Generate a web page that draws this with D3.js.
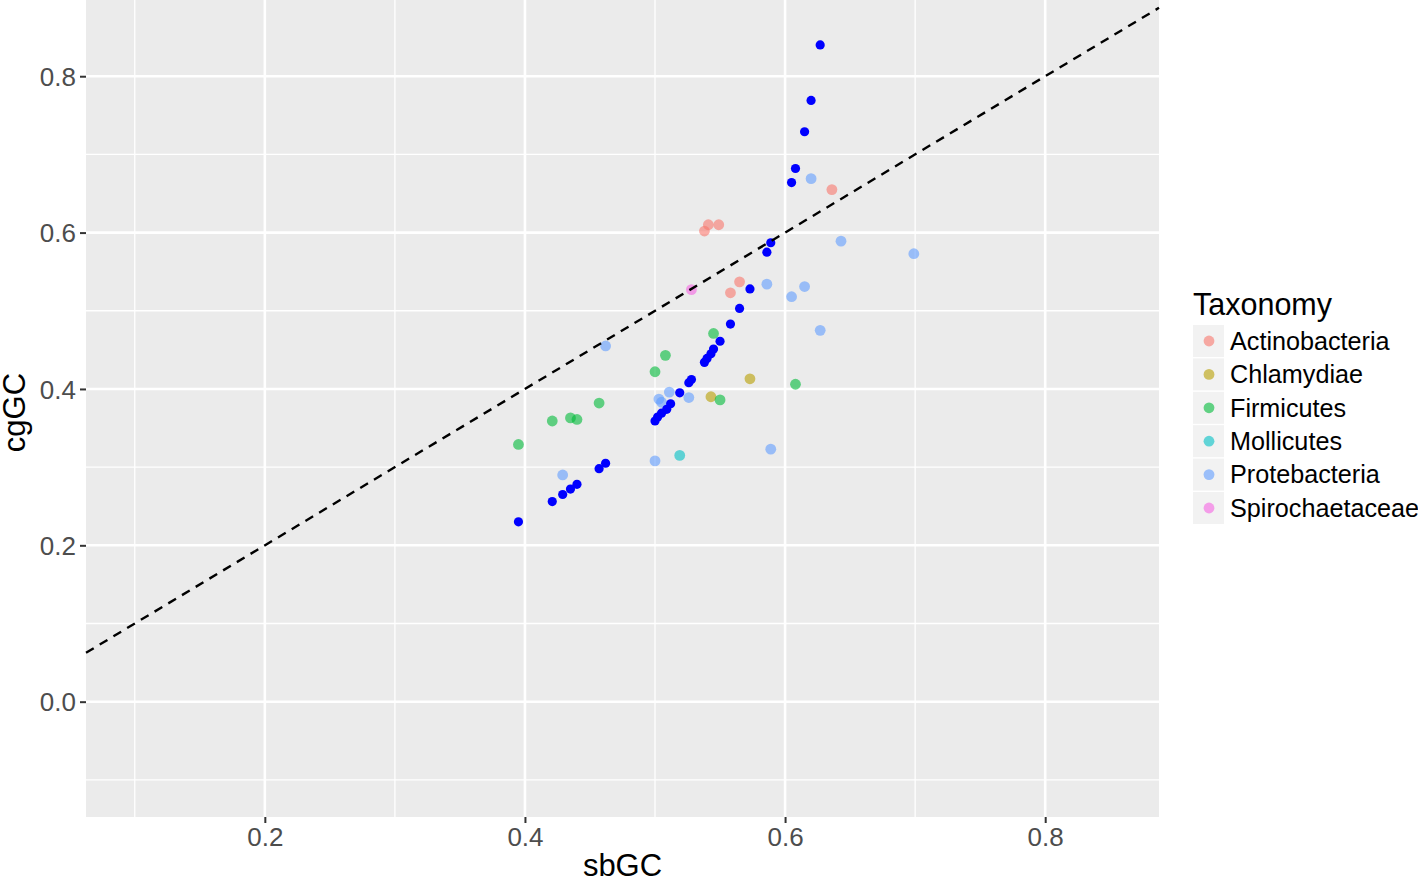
<!DOCTYPE html>
<html>
<head>
<meta charset="utf-8">
<script src="https://cdn.jsdelivr.net/npm/d3@7"></script>
<style>
  body { margin: 0; background: #fff; }
  text { font-family: "Liberation Sans", Arial, sans-serif; }
</style>
</head>
<body>
<script>
// Taxonomy groups and their colours (ggplot hue palette)
var taxa = ["Actinobacteria", "Chlamydiae", "Firmicutes", "Mollicutes", "Protebacteria", "Spirochaetaceae"];
var taxaColors = ["#F8766D", "#B79F00", "#00BA38", "#00BFC4", "#619CFF", "#F564E3"];

// coloured points: [sbGC, cgGC]
var actinobacteria = [[0.636, 0.655], [0.541, 0.610], [0.549, 0.610], [0.538, 0.602], [0.565, 0.537], [0.558, 0.523]];
var chlamydiae = [[0.573, 0.413], [0.543, 0.390]];
var firmicutes = [[0.545, 0.471], [0.508, 0.443], [0.500, 0.422], [0.608, 0.406], [0.550, 0.386],
                  [0.457, 0.382], [0.435, 0.363], [0.440, 0.361], [0.421, 0.359], [0.395, 0.329]];
var mollicutes = [[0.519, 0.315]];
var protebacteria = [[0.620, 0.669], [0.643, 0.589], [0.699, 0.573], [0.586, 0.534], [0.615, 0.531],
                     [0.605, 0.518], [0.627, 0.475], [0.462, 0.455], [0.511, 0.396], [0.503, 0.387],
                     [0.505, 0.383], [0.526, 0.389], [0.589, 0.323], [0.500, 0.308], [0.429, 0.290]];
var spirochaetaceae = [[0.528, 0.527]];

// blue points (no legend entry)
var bluePoints = [[0.627, 0.840], [0.620, 0.769], [0.615, 0.729], [0.608, 0.682], [0.605, 0.664],
                  [0.589, 0.587], [0.586, 0.575], [0.573, 0.528], [0.565, 0.503], [0.558, 0.483],
                  [0.550, 0.461], [0.545, 0.451], [0.543, 0.445], [0.540, 0.439], [0.538, 0.434],
                  [0.528, 0.412], [0.526, 0.408], [0.519, 0.395], [0.512, 0.381], [0.509, 0.374],
                  [0.505, 0.369], [0.502, 0.364], [0.500, 0.359], [0.462, 0.305], [0.457, 0.298],
                  [0.440, 0.278], [0.435, 0.272], [0.429, 0.265], [0.421, 0.256], [0.395, 0.230]];

var xMajor = [0.2, 0.4, 0.6, 0.8];
var xMinor = [0.1, 0.3, 0.5, 0.7];
var yMajor = [0.0, 0.2, 0.4, 0.6, 0.8];
var yMinor = [-0.1, 0.1, 0.3, 0.5, 0.7];

var groups = [actinobacteria, chlamydiae, firmicutes, mollicutes, protebacteria, spirochaetaceae];

var svgWidth = 1418, svgHeight = 880;
var margin = { top: 0, right: 259, bottom: 63, left: 86 };
var width = svgWidth - margin.left - margin.right;
var height = svgHeight - margin.top - margin.bottom;

var svg = d3.select("body").append("svg")
  .attr("width", svgWidth)
  .attr("height", svgHeight);

var chartGroup = svg.append("g")
  .attr("transform", `translate(${margin.left}, ${margin.top})`);

// ggplot style: limits plus 5% expansion
var x = d3.scaleLinear().domain([0.0625, 0.8875]).range([0, width]);
var y = d3.scaleLinear().domain([-0.1475, 0.8975]).range([height, 0]);

// panel background
chartGroup.append("rect")
  .attr("width", width).attr("height", height)
  .attr("fill", "#EBEBEB");

// minor grid
chartGroup.selectAll(".xminor").data(xMinor).enter().append("line")
  .attr("x1", d => x(d)).attr("x2", d => x(d))
  .attr("y1", 0).attr("y2", height)
  .attr("stroke", "#fff").attr("stroke-width", 1.3);
chartGroup.selectAll(".yminor").data(yMinor).enter().append("line")
  .attr("y1", d => y(d)).attr("y2", d => y(d))
  .attr("x1", 0).attr("x2", width)
  .attr("stroke", "#fff").attr("stroke-width", 1.3);

// major grid
chartGroup.selectAll(".xmajor").data(xMajor).enter().append("line")
  .attr("x1", d => x(d)).attr("x2", d => x(d))
  .attr("y1", 0).attr("y2", height)
  .attr("stroke", "#fff").attr("stroke-width", 2.6);
chartGroup.selectAll(".ymajor").data(yMajor).enter().append("line")
  .attr("y1", d => y(d)).attr("y2", d => y(d))
  .attr("x1", 0).attr("x2", width)
  .attr("stroke", "#fff").attr("stroke-width", 2.6);

// axes
var bottomAxis = d3.axisBottom(x).tickValues(xMajor).tickFormat(d3.format(".1f"))
  .tickSize(6).tickPadding(5);
var leftAxis = d3.axisLeft(y).tickValues(yMajor).tickFormat(d3.format(".1f"))
  .tickSize(6).tickPadding(4);

var xAxisG = chartGroup.append("g")
  .attr("transform", `translate(0, ${height})`)
  .call(bottomAxis);
var yAxisG = chartGroup.append("g").call(leftAxis);

[xAxisG, yAxisG].forEach(function (g) {
  g.select(".domain").remove();
  g.selectAll(".tick line").attr("stroke", "#333").attr("stroke-width", 2);
  g.selectAll(".tick text")
    .attr("fill", "#4D4D4D")
    .style("font-size", "26px")
    .style("font-family", "'Liberation Sans', Arial, sans-serif");
});
yAxisG.selectAll(".tick text").attr("dy", "0.35em");

// coloured points
groups.forEach(function (pts, i) {
  chartGroup.append("g").selectAll("circle")
    .data(pts).enter().append("circle")
    .attr("cx", d => x(d[0]))
    .attr("cy", d => y(d[1]))
    .attr("r", 5.4)
    .attr("fill", taxaColors[i])
    .attr("fill-opacity", 0.6);
});

// blue points
chartGroup.append("g").selectAll("circle")
  .data(bluePoints).enter().append("circle")
  .attr("cx", d => x(d[0]))
  .attr("cy", d => y(d[1]))
  .attr("r", 4.6)
  .attr("fill", "#0000FF");

// y = x reference line
var xd = x.domain();
chartGroup.append("line")
  .attr("x1", x(xd[0])).attr("y1", y(xd[0]))
  .attr("x2", x(xd[1])).attr("y2", y(xd[1]))
  .attr("stroke", "#000").attr("stroke-width", 2.4)
  .attr("stroke-dasharray", "9,7");

// axis titles
svg.append("text")
  .attr("x", margin.left + width / 2).attr("y", 876)
  .attr("text-anchor", "middle")
  .style("font-size", "31px")
  .text("sbGC");

svg.append("text")
  .attr("transform", `translate(25, ${height / 2 + 4}) rotate(-90)`)
  .attr("text-anchor", "middle")
  .style("font-size", "31px")
  .text("cgGC");

// legend
var legend = svg.append("g").attr("transform", "translate(1193, 0)");
legend.append("text")
  .attr("x", 0).attr("y", 315)
  .style("font-size", "30.5px")
  .text("Taxonomy");

var rowH = 33.4;
var rows = legend.selectAll(".row").data(taxa).enter().append("g")
  .attr("transform", (d, i) => `translate(0, ${325 + i * rowH})`);
rows.append("rect")
  .attr("width", 31).attr("height", 32)
  .attr("fill", "#F2F2F2");
rows.append("circle")
  .attr("cx", 16).attr("cy", 16).attr("r", 5.4)
  .attr("fill", (d, i) => taxaColors[i])
  .attr("fill-opacity", 0.6);
rows.append("text")
  .attr("x", 37).attr("y", 16).attr("dy", "0.35em")
  .style("font-size", "25.2px")
  .text(d => d);
</script>
</body>
</html>
